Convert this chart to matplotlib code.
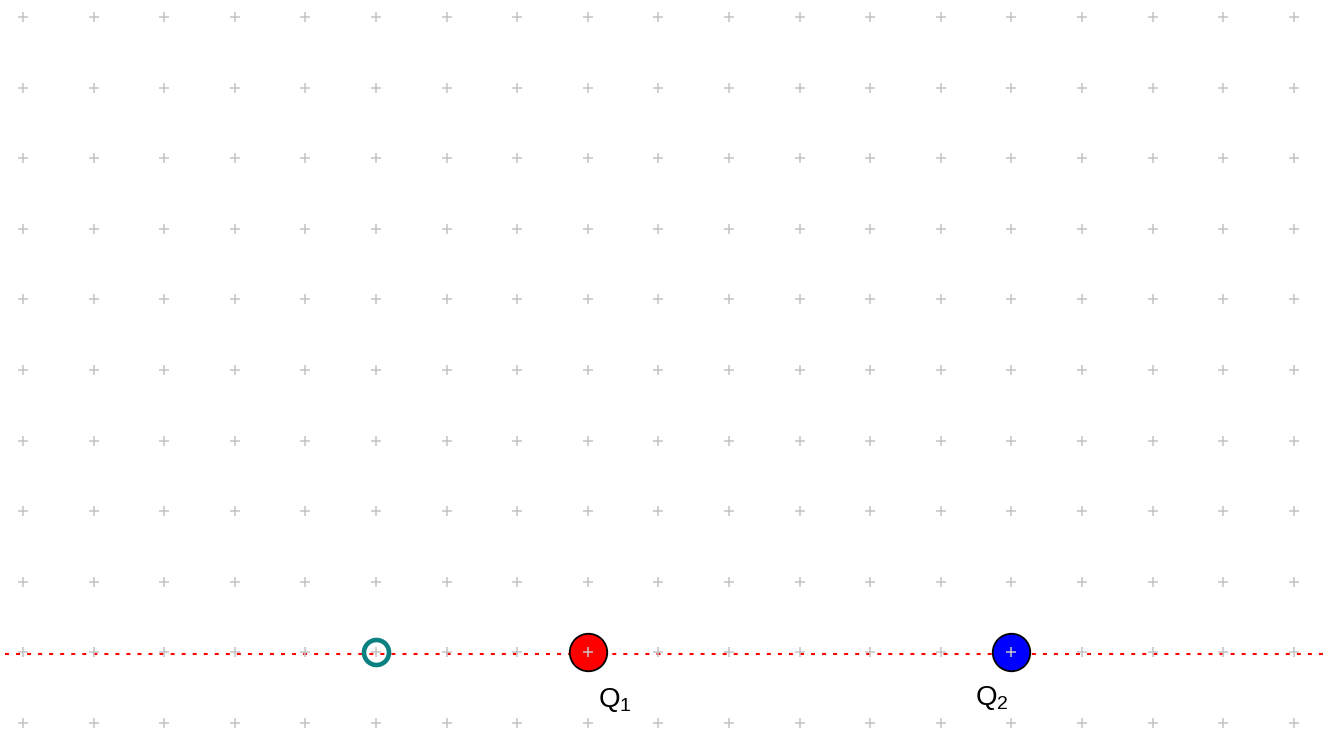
import numpy as np
import matplotlib.pyplot as plt

GRID_COLOR = "#c4c4c4"
LINE_COLOR = "#ff0000"
RING_COLOR = "#0a8080"

# grid of "+" points (grid units)
GRID_X = list(range(0, 19))
GRID_Y = list(range(0, 11))

# charges: position on the grid, fill colour, label
CHARGE_X = [8, 14]
CHARGE_Y = [1, 1]
CHARGE_COLORS = ["#ff0000", "#0000ff"]
CHARGE_LABELS = ["Q$_1$", "Q$_2$"]
LABEL_X = [8.14, 13.48]
LABEL_Y = [0.23, 0.25]

# test point (open ring)
PROBE_X = [5]
PROBE_Y = [1]

# field line along the axis
LINE_X = [-0.25, 18.43]
LINE_Y = [0.98, 0.98]


def main():
    plt.rcParams['font.family'] = ['Liberation Sans', 'DejaVu Sans']
    plt.rcParams['mathtext.fontset'] = 'custom'
    plt.rcParams['mathtext.rm'] = 'Liberation Sans'
    plt.rcParams['mathtext.it'] = 'Liberation Sans'

    fig = plt.figure(figsize=(13.33, 7.33), dpi=100)
    ax = fig.add_axes([0, 0, 1, 1])

    gx, gy = np.meshgrid(GRID_X, GRID_Y)
    ax.plot(gx.ravel(), gy.ravel(), '+', color=GRID_COLOR,
            markersize=7, markeredgewidth=1.1, zorder=3)

    ax.plot(LINE_X, LINE_Y, color=LINE_COLOR, linewidth=1.5,
            linestyle=(0, (1.9, 3.4)), zorder=2)

    ax.plot(PROBE_X, PROBE_Y, 'o', markerfacecolor='none',
            markeredgecolor=RING_COLOR, markersize=18,
            markeredgewidth=3.3, zorder=4)

    for x, y, c in zip(CHARGE_X, CHARGE_Y, CHARGE_COLORS):
        ax.plot(x, y, 'o', markerfacecolor=c, markeredgecolor='black',
                markersize=27, markeredgewidth=1.3, zorder=4)
        ax.plot(x, y, '+', color=GRID_COLOR, markersize=7,
                markeredgewidth=1.1, zorder=5)

    for x, y, s in zip(LABEL_X, LABEL_Y, CHARGE_LABELS):
        ax.text(x, y, s, fontsize=20, color='black', ha='left',
                va='baseline', zorder=6)

    ax.set_xlim(-23 / 70.6, (1333 - 23) / 70.6)
    ax.set_ylim(10 - (733 - 17) / 70.6, 10 + 17 / 70.6)
    ax.axis('off')

    fig.savefig('out.png', dpi=100)


if __name__ == "__main__":
    main()
